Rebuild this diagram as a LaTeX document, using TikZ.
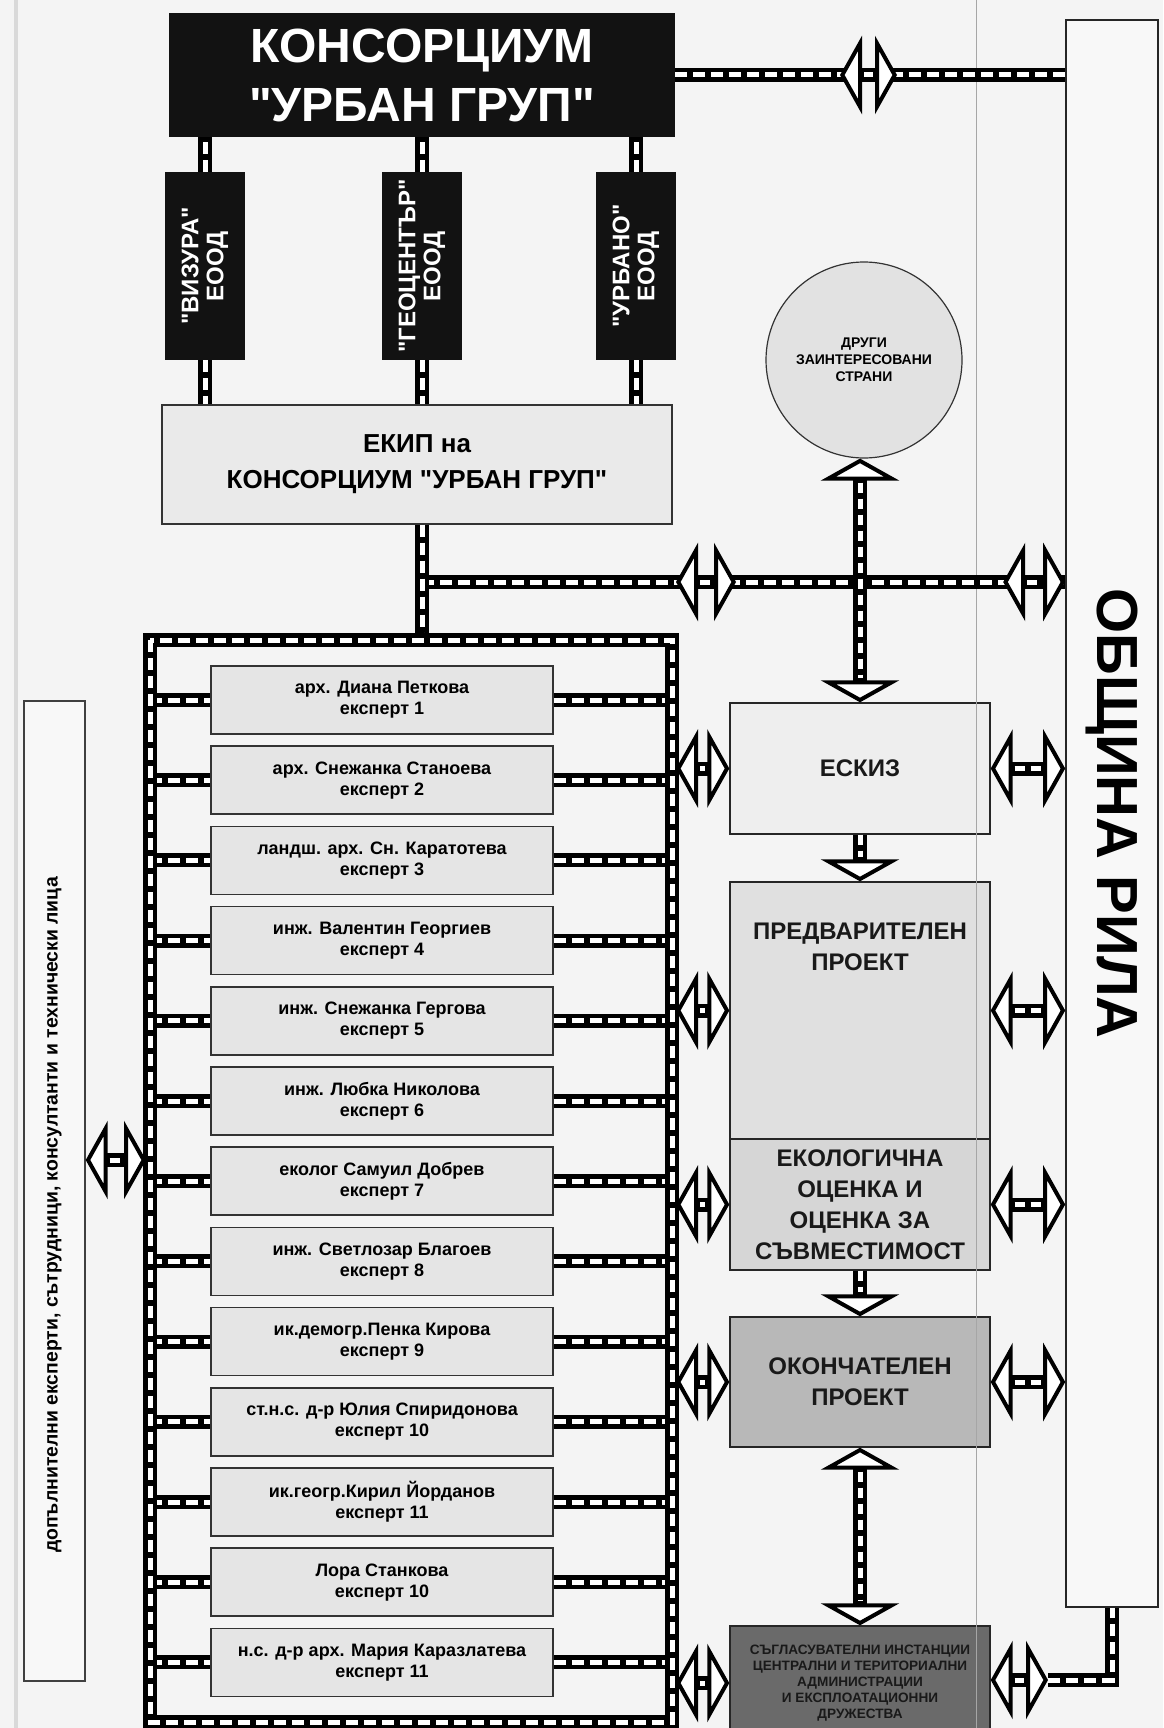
\documentclass[tikz,border=0pt]{standalone}
\usepackage{fontspec}
\setmainfont{Liberation Sans}[Ligatures=TeXOff]
\usetikzlibrary{arrows.meta,calc}
\definecolor{paper}{RGB}{244,244,244}
\definecolor{ink}{RGB}{18,18,18}
\definecolor{ekipgray}{RGB}{234,234,234}
\definecolor{expgray}{RGB}{229,229,229}
\definecolor{eskizgray}{RGB}{238,238,238}
\definecolor{predvgray}{RGB}{224,224,224}
\definecolor{ekolgray}{RGB}{214,214,214}
\definecolor{okonchgray}{RGB}{184,184,184}
\definecolor{soglgray}{RGB}{106,106,106}
\definecolor{circgray}{RGB}{226,226,226}
\definecolor{sidegray}{RGB}{248,248,248}

\begin{document}
\begin{tikzpicture}[x=0.5pt,y=-0.5pt,
    hollow/.tip={Triangle[fill=white,line width=2pt,length=11pt,width=39pt]},
    strip/.style={draw=black,line width=7pt,
        postaction={draw=white,line width=2.5pt,dash pattern=on 6pt off 3pt}},
    twoway/.style={draw=black,line width=7pt,hollow-hollow,
        postaction={draw=white,line width=2.5pt,-,dash pattern=on 5pt off 3pt,shorten <=12pt,shorten >=12pt}},
    oneway/.style={draw=black,line width=7pt,-hollow,
        postaction={draw=white,line width=2.5pt,-,dash pattern=on 5pt off 3pt,shorten >=12pt}},
    dark/.style={fill=ink,text=white,align=center,inner sep=0pt},
    firm/.style={dark,rotate=90,minimum width=94pt,minimum height=40pt,font=\bfseries\fontsize{12pt}{12.5pt}\selectfont},
    expert/.style={draw=black!80,line width=.8pt,fill=expgray,minimum width=171pt,minimum height=34pt,align=center,inner sep=0pt,font=\bfseries\fontsize{9pt}{10.5pt}\selectfont},
    proc/.style={draw=black!85,line width=.7pt,minimum width=130pt,align=center,inner sep=0pt,text=black!90,font=\bfseries\fontsize{12pt}{15.5pt}\selectfont}]
    \useasboundingbox (0,0) rectangle (1163,1728);
    \clip (0,0) rectangle (1163,1728);
    \fill[paper] (0,0) rectangle (1163,1728);
    \draw[black!15,line width=2pt] (16,0) -- (16,1728);

    \coordinate (fnw) at (150,640);
    \coordinate (fse) at (672,1722);
    \coordinate (fout) at (676,0);
    \coordinate (fork) at (422,582);
    \coordinate (hub) at (860,582);

    \node[dark,minimum width=253pt,minimum height=62pt,font=\bfseries\fontsize{24pt}{29.5pt}\selectfont] (urban) at (422,75) {КОНСОРЦИУМ\\"УРБАН ГРУП"};
    \node[draw=black!80,line width=.7pt,fill=ekipgray,minimum width=255pt,minimum height=59.5pt,align=center,font=\bfseries\fontsize{13pt}{18pt}\selectfont] (ekip) at (417,464.5) {ЕКИП на\\КОНСОРЦИУМ "УРБАН ГРУП"};
    \foreach \nm/\lbl/\xx in {vizura/ВИЗУРА/205,geocentar/ГЕОЦЕНТЪР/422,urbano/УРБАНО/636}{
        \node[firm] (\nm) at (\xx,266) {"\lbl"\\ЕООД};
        \draw[strip] (\nm.east) -- (\nm.east |- urban.south);
        \draw[strip] (\nm.west) -- (\nm.west |- ekip.north);
    }

    \node[draw=black!85,line width=.8pt,fill=sidegray,minimum width=46pt,minimum height=793.5pt,inner sep=0pt] (obshtina) at (1112,813.5) {\rotatebox{-90}{\bfseries\fontsize{29pt}{30pt}\selectfont ОБЩИНА РИЛА}};
    \node[draw=black!75,line width=.7pt,fill=sidegray,minimum width=30.5pt,minimum height=490pt,inner sep=0pt] (extra) at (54.5,1191) {\rotatebox{90}{\bfseries\fontsize{9.7pt}{11pt}\selectfont допълнителни експерти, сътрудници, консултанти и технически лица\hspace{24pt}}};
    \node[circle,draw=black!80,line width=.6pt,fill=circgray,minimum size=98pt,inner sep=0pt,align=center,font=\bfseries\fontsize{7pt}{8.5pt}\selectfont] (others) at (864,360) {ДРУГИ\\ЗАИНТЕРЕСОВАНИ\\СТРАНИ};
    \node[proc,fill=eskizgray,minimum height=65.5pt] (eskiz) at (860,768.5) {ЕСКИЗ};
    \node[proc,fill=predvgray,minimum height=128.5pt] (predv) at (860,1010.5) {};
    \node[proc,draw=none] (predvtext) at (860,946.5) {ПРЕДВАРИТЕЛЕН\\ПРОЕКТ};
    \node[proc,fill=ekolgray,minimum height=65.5pt] (ekol) at (860,1204.5) {ЕКОЛОГИЧНА\\ОЦЕНКА И\\ОЦЕНКА ЗА\\СЪВМЕСТИМОСТ};
    \node[proc,fill=okonchgray,minimum height=65pt] (okonch) at (860,1382) {ОКОНЧАТЕЛЕН\\ПРОЕКТ};
    \node[proc,fill=soglgray,minimum height=57pt,font=\bfseries\fontsize{6.8pt}{8pt}\selectfont] (sogl) at (860,1683) {СЪГЛАСУВАТЕЛНИ ИНСТАНЦИИ\\ЦЕНТРАЛНИ И ТЕРИТОРИАЛНИ\\АДМИНИСТРАЦИИ\\И ЕКСПЛОАТАЦИОННИ\\ДРУЖЕСТВА};
    \draw[black!35,line width=.4pt] (976,0) -- (976,1728);

    \foreach \who/\num [count=\i from 0] in {
        арх. Диана Петкова/1,
        арх. Снежанка Станоева/2,
        ландш. арх. Сн. Каратотева/3,
        инж. Валентин Георгиев/4,
        инж. Снежанка Гергова/5,
        инж. Любка Николова/6,
        еколог Самуил Добрев/7,
        инж. Светлозар Благоев/8,
        ик.демогр.Пенка Кирова/9,
        ст.н.с. д-р Юлия Спиридонова/10,
        ик.геогр.Кирил Йорданов/11,
        Лора Станкова/10,
        н.с. д-р арх. Мария Каразлатева/11}{
        \node[expert] (ex\i) at (382,700+80.2*\i) {\who\\експерт \num};
        \draw[strip] (fnw |- ex\i.west) -- (ex\i.west);
        \draw[strip] (ex\i.east) -- (fse |- ex\i.east);
    }

    \draw[strip] (fork) -- (hub) -- (obshtina.west |- hub);
    \draw[strip] (ekip.south -| fork) -- (fnw -| fork);
    \draw[strip] (fnw) rectangle (fse);
    \draw[strip] (urban.east) -- (obshtina.west |- urban.east);
    \draw[twoway] (others.south -| eskiz) -- (eskiz.north);
    \draw[oneway] (eskiz.south) -- (predv.north);
    \draw[oneway] (ekol.south) -- (okonch.north);
    \draw[twoway] (okonch.south) -- (sogl.north);

    \coordinate (ua) at (840,75);
    \coordinate (ub) at (897,75);
    \draw[twoway] (ua) -- (ub);
    \coordinate (ha) at (676,582);
    \coordinate (hb) at (736,582);
    \draw[twoway] (ha) -- (hb);
    \draw[twoway] ($(obshtina.west |- hub)+(-62,0)$) -- (obshtina.west |- hub);
    \foreach \bx in {eskiz,predv,ekol,okonch,sogl}
        \draw[twoway] (fout |- \bx) -- (\bx.west);
    \foreach \bx in {eskiz,predv,ekol,okonch}
        \draw[twoway] (\bx.east) -- (obshtina.west |- \bx);
    \coordinate (sr) at (1048,1680);
    \draw[strip] (sr) -| (obshtina.south);
    \draw[twoway] (sogl.east |- sr) -- (sr);
    \coordinate (xt) at (146,1160);
    \draw[twoway] (extra.east |- xt) -- (xt);
\end{tikzpicture}
\end{document}
